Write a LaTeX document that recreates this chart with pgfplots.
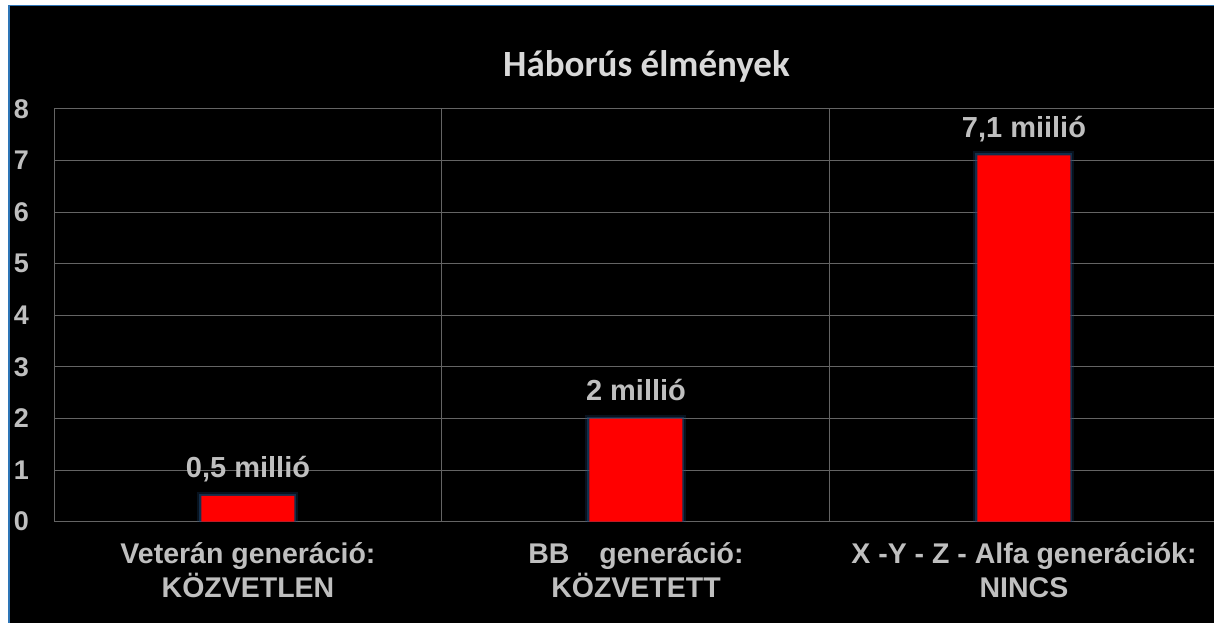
\documentclass[border=0pt]{standalone}
\usepackage{fontspec}
\setmainfont{Liberation Sans}
\newfontfamily\titlefont{Carlito}
\usepackage{pgfplots}
\pgfplotsset{compat=1.18}
\definecolor{gridc}{RGB}{100,100,100}
\definecolor{txt}{RGB}{191,191,191}
\definecolor{ttl}{RGB}{217,217,217}
\definecolor{blueline}{RGB}{46,117,182}
\definecolor{glow}{RGB}{30,75,120}
\definecolor{barred}{RGB}{255,0,0}
\begin{document}
\begin{tikzpicture}
\useasboundingbox (0,0) rectangle (1214pt,623pt);
\fill[white] (0,0) rectangle (1214pt,623pt);
\fill[black] (9pt,0) rectangle (1214pt,617.5pt);
\draw[blueline, line width=1.6pt] (9pt,0) -- (9pt,617.5pt) -- (1214pt,617.5pt);
\clip (9.8pt,0) rectangle (1214pt,616.7pt);
\node[anchor=base, text=ttl, font=\titlefont\fontsize{37}{40}\selectfont\bfseries] at (646.5pt,546pt) {Háborús élmények};
\begin{axis}[
  scale only axis, width=1164pt, height=412.7pt,
  at={(54pt,101.3pt)}, anchor=south west,
  xmin=-0.5, xmax=2.5, ymin=0, ymax=8,
  ytick={0,...,8}, ymajorgrids,
  grid style={gridc, line width=1pt},
  axis line style={gridc, line width=1pt},
  major tick length=0pt,
  xtick={0,1,2},
  xticklabels={{Veterán generáció:\\KÖZVETLEN}, {BB\hspace{30pt}generáció:\\KÖZVETETT}, {X -Y - Z - Alfa generációk:\\NINCS}},
  xticklabel style={align=center, anchor=north, inner sep=0pt, yshift=-21pt, text=txt, font=\fontsize{28.5}{33.3}\selectfont\bfseries},
  extra x ticks={0.5,1.5},
  extra x tick labels={},
  extra x tick style={grid=major},
  yticklabel style={anchor=east, inner sep=0pt, xshift=-25pt, text=txt, font=\fontsize{27}{30}\selectfont\bfseries},
  /pgf/number format/assume math mode=true,
]
\addplot[ybar, bar width=93pt, bar shift=0pt, draw=glow, line width=8pt, draw opacity=0.25, fill=none] coordinates {(0,0.5) (1,2) (2,7.1)};
\addplot[ybar, bar width=93pt, bar shift=0pt, draw=glow, line width=4pt, draw opacity=0.5, fill=none] coordinates {(0,0.5) (1,2) (2,7.1)};
\addplot[ybar, bar width=93pt, bar shift=0pt, fill=barred, draw=none,
  point meta=explicit symbolic, nodes near coords,
  every node near coord/.append style={anchor=base, inner sep=0pt, yshift=18pt, text=txt, font=\fontsize{29}{33}\selectfont\bfseries}]
  coordinates {(0,0.5) [0,5 millió] (1,2) [2 millió] (2,7.1) [7,1 miilió]};
\end{axis}
\end{tikzpicture}
\end{document}
